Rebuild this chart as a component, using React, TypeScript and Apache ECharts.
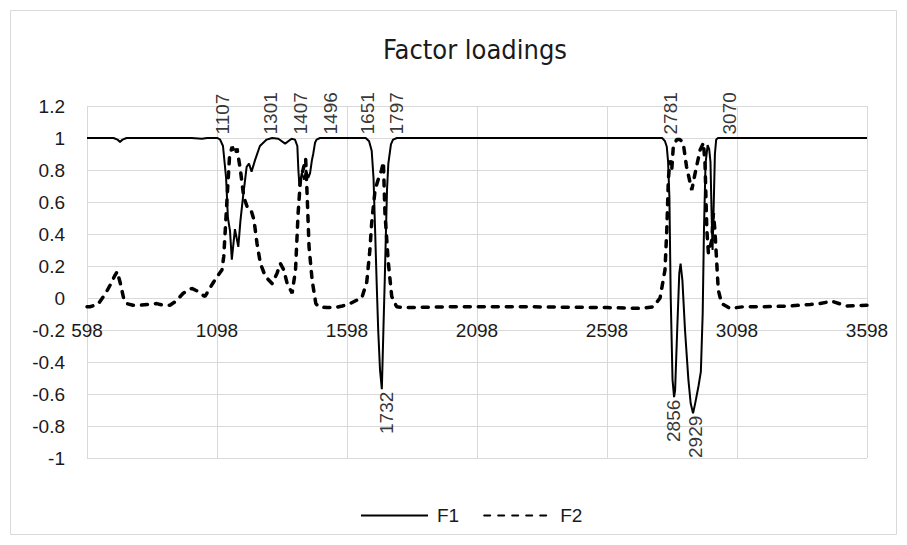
import React, { useEffect, useRef } from "react";
import * as echarts from "echarts";

// Wavenumber (x) and loading (y) pairs
const f1Points: [number, number][] = [
  [598, 1.0], [700, 1.0], [715, 0.99], [725, 0.975], [735, 0.99], [750, 1.0], [900, 1.0], [1000, 1.0],
  [1040, 0.995], [1060, 1.0], [1100, 1.0], [1110, 0.99], [1121, 0.95], [1133, 0.75], [1140, 0.5],
  [1148, 0.42], [1155, 0.24], [1160, 0.32], [1167, 0.43], [1173, 0.38], [1180, 0.32], [1188, 0.48],
  [1198, 0.63], [1212, 0.82], [1221, 0.84], [1231, 0.79], [1244, 0.86], [1263, 0.95], [1289, 0.99],
  [1310, 1.0], [1334, 0.995], [1360, 0.965], [1385, 0.995], [1398, 0.99], [1407, 0.95], [1411, 0.8],
  [1415, 0.7], [1424, 0.78], [1433, 0.74], [1441, 0.8], [1449, 0.75], [1456, 0.78], [1463, 0.86],
  [1468, 0.9], [1475, 0.97], [1481, 0.99], [1494, 1.0], [1640, 1.0], [1670, 1.0], [1683, 0.98],
  [1693, 0.92], [1700, 0.75], [1706, 0.43], [1712, 0.1], [1718, -0.2], [1725, -0.45], [1732, -0.57],
  [1738, -0.2], [1743, 0.1], [1748, 0.43], [1752, 0.68], [1757, 0.84], [1767, 0.96], [1775, 0.99],
  [1790, 1.0], [2500, 1.0], [2810, 1.0], [2821, 0.98], [2828, 0.945], [2833, 0.85], [2838, 0.63],
  [2843, 0.01], [2850, -0.51], [2856, -0.62], [2860, -0.575], [2868, -0.2], [2876, 0.155], [2881, 0.215],
  [2888, 0.11], [2898, -0.2], [2911, -0.51], [2920, -0.66], [2929, -0.72], [2937, -0.66], [2950, -0.55],
  [2959, -0.46], [2966, -0.1], [2971, 0.43], [2977, 0.84], [2985, 0.955], [2991, 0.93], [2996, 0.85],
  [3000, 0.55], [3004, 0.3], [3008, 0.55], [3013, 0.9], [3018, 0.99], [3025, 1.0], [3598, 1.0],
];

const f2Points: [number, number][] = [
  [598, -0.055], [609, -0.055], [640, -0.04], [670, 0.03], [690, 0.09], [705, 0.14], [714, 0.165],
  [725, 0.1], [740, -0.01], [751, -0.035], [775, -0.045], [802, -0.045], [830, -0.04], [866, -0.035],
  [890, -0.045], [917, -0.045], [940, -0.02], [968, 0.03], [985, 0.045], [1001, 0.06], [1020, 0.045],
  [1040, 0.02], [1052, 0.01], [1070, 0.06], [1085, 0.1], [1097, 0.13], [1110, 0.16], [1117, 0.175],
  [1124, 0.26], [1137, 0.63], [1146, 0.88], [1156, 0.945], [1169, 0.9], [1175, 0.935], [1188, 0.8],
  [1201, 0.63], [1214, 0.57], [1227, 0.56], [1240, 0.49], [1252, 0.34], [1265, 0.215], [1284, 0.135],
  [1310, 0.09], [1329, 0.155], [1342, 0.215], [1355, 0.175], [1368, 0.09], [1387, 0.03], [1400, 0.175],
  [1410, 0.53], [1419, 0.74], [1432, 0.82], [1439, 0.87], [1445, 0.63], [1452, 0.32], [1464, 0.11],
  [1478, -0.035], [1490, -0.055], [1520, -0.06], [1550, -0.06], [1580, -0.05], [1610, -0.035],
  [1640, -0.01], [1655, 0.0], [1674, 0.1], [1686, 0.3], [1693, 0.47], [1706, 0.675], [1718, 0.74],
  [1731, 0.8], [1738, 0.85], [1744, 0.53], [1757, 0.22], [1770, 0.01], [1789, -0.055], [1820, -0.06],
  [2000, -0.055], [2300, -0.055], [2600, -0.06], [2725, -0.065], [2776, -0.055], [2802, 0.0],
  [2821, 0.175], [2828, 0.425], [2834, 0.74], [2840, 0.86], [2847, 0.8], [2853, 0.945], [2866, 0.99],
  [2879, 0.99], [2891, 0.97], [2904, 0.82], [2924, 0.675], [2937, 0.78], [2956, 0.925], [2969, 0.97],
  [2975, 0.84], [2982, 0.425], [2988, 0.28], [3001, 0.36], [3007, 0.53], [3013, 0.425], [3026, 0.05],
  [3039, -0.035], [3071, -0.065], [3121, -0.055], [3200, -0.055], [3300, -0.05], [3380, -0.04],
  [3417, -0.035], [3462, -0.02], [3520, -0.05], [3598, -0.045],
];

// Annotated wavenumbers
const topLabels: number[] = [1107, 1301, 1407, 1496, 1651, 1797, 2781, 3070];
const bottomLabels: [number, number][] = [[1732, -0.57], [2856, -0.62], [2929, -0.72]];

// horizontal nudges (px) of the annotation texts, as placed in the reference
const topNudge: number[] = [3, 1, 3, 10, 7, -2, 16, 0];
const bottomNudge: number[] = [5, -1, 2];

const xTicks = { min: 598, max: 3598, step: 500 };
const yTicks = { min: -1, max: 1.2, step: 0.2 };

const FONT = "'Liberation Sans', Arial, sans-serif";
const TITLE_FONT = "'DejaVu Sans Condensed', 'Liberation Sans', sans-serif";
const TEXT = "#1a1a1a";

export default function App() {
  const ref = useRef<HTMLDivElement>(null);

  useEffect(() => {
    if (!ref.current) return;
    const chart = echarts.init(ref.current, undefined, { renderer: "svg" });
    const labelBase = {
      show: true,
      rotate: 90,
      fontSize: 19,
      color: "#000",
      fontFamily: FONT,
      formatter: (p: any) => String(p.value[0]),
    };
    chart.setOption({
      animation: false,
      textStyle: { fontFamily: FONT },
      title: {
        text: "Factor loadings",
        left: 470,
        top: 31,
        textAlign: "center",
        textStyle: { fontSize: 27, fontWeight: "normal", color: TEXT, fontFamily: TITLE_FONT },
      },
      graphic: [
        {
          type: "rect",
          shape: { x: 10.5, y: 10.5, width: 886, height: 524 },
          style: { fill: "none", stroke: "#d9d9d9", lineWidth: 1 },
          silent: true,
        },
      ],
      legend: {
        data: ["F1", "F2"],
        left: 355,
        top: 501,
        itemWidth: 67,
        itemHeight: 16,
        itemGap: 24,
        itemStyle: { opacity: 0 },
        textStyle: { fontSize: 19, color: TEXT, fontFamily: FONT, padding: [0, 0, 0, 4] },
      },
      grid: { left: 87, right: 40, top: 106, bottom: 87, containLabel: false },
      xAxis: {
        type: "value",
        min: xTicks.min,
        max: xTicks.max,
        interval: xTicks.step,
        offset: -128,
        axisLine: { show: false },
        axisTick: { show: false },
        axisLabel: {
          margin: 0,
          verticalAlign: "middle",
          fontSize: 19,
          color: TEXT,
          fontFamily: FONT,
          showMinLabel: true,
          showMaxLabel: true,
          formatter: (v: number) => String(v),
        },
        splitLine: { show: true, lineStyle: { color: "#d9d9d9", width: 1 } },
      },
      yAxis: {
        type: "value",
        min: yTicks.min,
        max: yTicks.max,
        interval: yTicks.step,
        axisLine: { show: false },
        axisTick: { show: false },
        axisLabel: {
          margin: 22,
          fontSize: 19,
          color: TEXT,
          fontFamily: FONT,
          formatter: (v: number) => String(Math.round(v * 10) / 10),
        },
        splitLine: { show: true, lineStyle: { color: "#d9d9d9", width: 1 } },
      },
      series: [
        {
          name: "F1",
          type: "line",
          data: f1Points,
          symbol: "none",
          lineStyle: { color: "#000", width: 2 },
          itemStyle: { color: "#000" },
        },
        {
          name: "F2",
          type: "line",
          data: f2Points,
          symbol: "none",
          lineStyle: { color: "#000", width: 3.5, type: [6, 8], cap: "round" },
          itemStyle: { color: "#000" },
        },
        {
          name: "topLabels",
          type: "scatter",
          silent: true,
          symbolSize: 1,
          itemStyle: { color: "rgba(0,0,0,0)" },
          data: topLabels.map((v, i) => ({ value: [v, 1], label: { offset: [0, topNudge[i]] } })),
          label: { ...labelBase, position: "top", distance: 3, align: "left", verticalAlign: "middle" },
          z: 5,
        },
        {
          name: "bottomLabels",
          type: "scatter",
          silent: true,
          symbolSize: 1,
          itemStyle: { color: "rgba(0,0,0,0)" },
          data: bottomLabels.map((p, i) => ({ value: p, label: { offset: [0, bottomNudge[i]] } })),
          label: { ...labelBase, position: "bottom", distance: 2, align: "right", verticalAlign: "middle" },
          z: 5,
        },
      ],
    });
    return () => chart.dispose();
  }, []);

  return (
    <div
      ref={ref}
      style={{ position: "fixed", left: 0, top: 0, width: 907, height: 545, background: "#fff" }}
    />
  );
}
